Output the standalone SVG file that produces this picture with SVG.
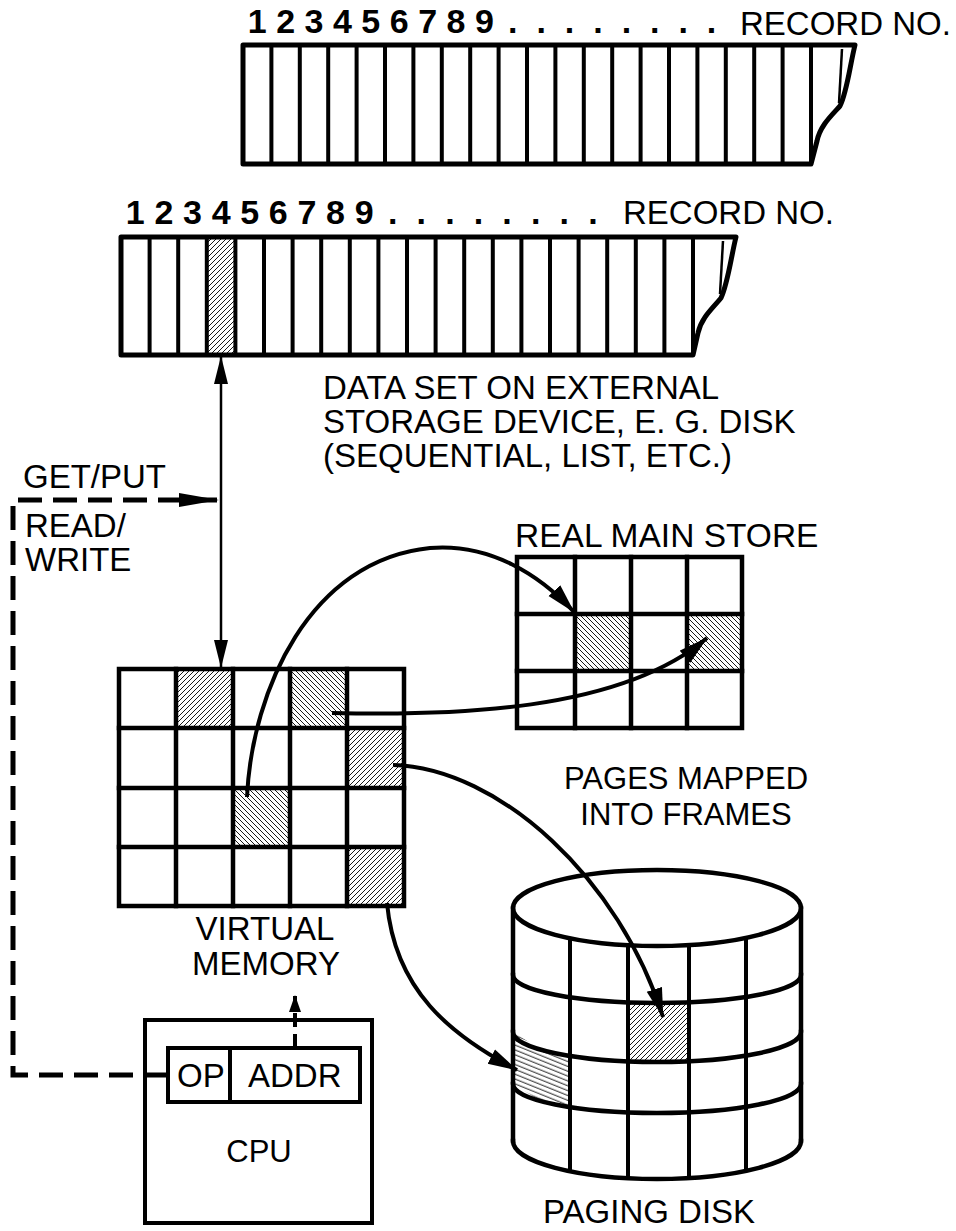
<svg xmlns="http://www.w3.org/2000/svg" width="956" height="1231" viewBox="0 0 956 1231">
<style>
text{font-family:"Liberation Sans",Arial,Helvetica,sans-serif;font-size:33px;fill:#000}
.num{font-weight:bold;font-size:34px}
.ol{fill:none;stroke:#000;stroke-width:5;stroke-linejoin:round}
.dv{fill:none;stroke:#000;stroke-width:4}
.gr{fill:none;stroke:#000;stroke-width:4.5;stroke-linecap:square}
.cv{fill:none;stroke:#000;stroke-width:4}
.ds{fill:none;stroke:#000;stroke-width:5;stroke-dasharray:24 11}
.th{fill:none;stroke:#000;stroke-width:2.5}
</style>
<defs>
<pattern id="hR" patternUnits="userSpaceOnUse" width="5" height="5"><path d="M-1,1 L1,-1 M0,5 L5,0 M4,6 L6,4" stroke="#000" stroke-width="0.9"/></pattern>
<pattern id="hL" patternUnits="userSpaceOnUse" width="5" height="5"><path d="M-1,4 L1,6 M0,0 L5,5 M4,-1 L6,1" stroke="#000" stroke-width="0.9"/></pattern>
<pattern id="hS" patternUnits="userSpaceOnUse" width="6" height="4.5" patternTransform="rotate(22)"><path d="M-1,2 H7" stroke="#000" stroke-width="0.9"/></pattern>
<marker id="ah" markerUnits="userSpaceOnUse" viewBox="0 0 30 18" markerWidth="30" markerHeight="18" refX="29" refY="9" orient="auto"><path d="M0,1 L30,9 L0,17 z" fill="#000"/></marker>
<marker id="ahThin" markerUnits="userSpaceOnUse" viewBox="0 0 28 14" markerWidth="28" markerHeight="14" refX="27" refY="7" orient="auto-start-reverse"><path d="M0,0 L28,7 L0,14 z" fill="#000"/></marker>
<marker id="ahLong" markerUnits="userSpaceOnUse" viewBox="0 0 40 14" markerWidth="40" markerHeight="14" refX="39" refY="7" orient="auto"><path d="M0,0 L40,7 L0,14 z" fill="#000"/></marker>
<marker id="ahSmall" markerUnits="userSpaceOnUse" viewBox="0 0 17 12" markerWidth="17" markerHeight="12" refX="16" refY="6" orient="auto"><path d="M0,0 L17,6 L0,12 z" fill="#000"/></marker>
</defs>

<g id="strip-top">
<text class="num" text-anchor="middle" x="257.2 285.6 314 342.4 370.8 399.2 427.6 456 484.4 512.8 541.2 569.6 598 626.4 654.8 683.2 711.6" y="33">123456789........</text>
<text x="740" y="35">RECORD NO.</text>
<path class="dv" d="M271.4,45V164M299.8,45V164M328.2,45V164M356.6,45V164M385,45V164M413.4,45V164M441.8,45V164M470.2,45V164M498.6,45V164M527,45V164M555.4,45V164M583.8,45V164M612.2,45V164M640.6,45V164M669,45V164M697.4,45V164M725.8,45V164M754.2,45V164M782.6,45V164M811,45V164"/>
<path class="ol" d="M243,45 H855 C850,65 847,92 840,106 C831,116 820,126 817,141 L811,164 H243 Z"/>
<path class="th" d="M842,49 L839,103"/>
</g>

<g id="strip-dataset">
<text class="num" text-anchor="middle" x="135.3 163.9 192.5 221.1 249.7 278.3 306.9 335.5 364.1 392.7 421.3 449.9 478.5 507.1 535.7 564.3 592.9" y="224">123456789........</text>
<text x="623" y="224">RECORD NO.</text>
<rect x="206.8" y="237" width="28.6" height="118" fill="url(#hR)"/>
<path class="dv" d="M149.6,237V355M178.2,237V355M206.8,237V355M235.4,237V355M264,237V355M292.6,237V355M321.2,237V355M349.8,237V355M378.4,237V355M407,237V355M435.6,237V355M464.2,237V355M492.8,237V355M521.4,237V355M550,237V355M578.6,237V355M607.2,237V355M635.8,237V355M664.4,237V355M693,237V355"/>
<path class="ol" d="M121,237 H736 C731,257 728,283 721,298 C713,308 701,318 698,333 L693,355 H121 Z"/>
<path class="th" d="M723,241 L720,294"/>
<text x="323" y="399">DATA SET ON EXTERNAL</text>
<text x="323" y="433">STORAGE DEVICE, E. G. DISK</text>
<text x="323" y="467">(SEQUENTIAL, LIST, ETC.)</text>
</g>

<g id="virtual-memory">
<rect x="176" y="669" width="57" height="59" fill="url(#hR)"/>
<rect x="290" y="669" width="57" height="59" fill="url(#hL)"/>
<rect x="347" y="728" width="57" height="60" fill="url(#hR)"/>
<rect x="233" y="788" width="57" height="59" fill="url(#hL)"/>
<rect x="347" y="847" width="57" height="59" fill="url(#hR)"/>
<path class="gr" d="M176,669V906M233,669V906M290,669V906M347,669V906M119,728H404M119,788H404M119,847H404"/>
<rect class="gr" x="119" y="669" width="285" height="237"/>
<text x="265" y="940" text-anchor="middle">VIRTUAL</text>
<text x="266" y="975" text-anchor="middle">MEMORY</text>
</g>

<g id="real-main-store">
<text x="515" y="547" style="font-size:33.5px">REAL MAIN STORE</text>
<rect x="575" y="614" width="56" height="57" fill="url(#hL)"/>
<rect x="687" y="614" width="55" height="57" fill="url(#hL)"/>
<path class="gr" d="M575,557V728M631,557V728M687,557V728M517,614H742M517,671H742"/>
<rect class="gr" x="517" y="557" width="225" height="171"/>
</g>

<g id="pages-label">
<text x="686" y="789" text-anchor="middle" style="font-size:31px">PAGES MAPPED</text>
<text x="686" y="825" text-anchor="middle" style="font-size:31px">INTO FRAMES</text>
</g>

<g id="paging-disk">
<path d="M628,1002.4 L657,1003 L689,1002.3 L689,1061.3 L657,1062 L628,1061.4 Z" fill="url(#hR)"/>
<path d="M513,1032 L541,1049.8 L570,1055.9 L570,1107.1 L541,1101.2 L513,1084 Z" fill="url(#hS)"/>
<ellipse class="gr" cx="657" cy="908" rx="144" ry="38"/>
<path class="gr" d="M513,908 V1141 M801,908 V1141"/>
<path class="gr" d="M513,975 A144,28 0 0 0 801,975 M513,1032 A144,30 0 0 0 801,1032 M513,1084 A144,29 0 0 0 801,1084 M513,1141 A144,38 0 0 0 801,1141"/>
<path class="dv" d="M570,938.3 V1171.3 M628,945.2 V1178.2 M689,945.1 V1178.1 M746,937.9 V1170.9"/>
<text x="543" y="1223">PAGING DISK</text>
</g>

<g id="cpu">
<rect x="145" y="1020" width="227" height="203" fill="none" stroke="#000" stroke-width="4"/>
<rect x="168" y="1048" width="192" height="54" fill="none" stroke="#000" stroke-width="4"/>
<path d="M230,1048 V1102" stroke="#000" stroke-width="4"/>
<text x="177" y="1087">OP</text>
<text x="248" y="1087">ADDR</text>
<text x="259" y="1162" text-anchor="middle" style="font-size:31px">CPU</text>
</g>

<g id="connectors">
<path class="th" d="M221,357 V667" marker-start="url(#ahThin)" marker-end="url(#ahThin)"/>
<path class="ds" d="M168,1075 H13 V500 H218" marker-end="url(#ahLong)"/>
<text x="23" y="488">GET/PUT</text>
<text x="25" y="537">READ/</text>
<text x="25" y="571">WRITE</text>
<path d="M295,1048 V996" fill="none" stroke="#000" stroke-width="4" stroke-dasharray="14 7" marker-end="url(#ahSmall)"/>
<path class="cv" d="M247,797 C252,690 310,560 430,548 C490,543 540,575 574,612" marker-end="url(#ah)"/>
<path class="cv" d="M332,713 C450,716 620,712 707,638" marker-end="url(#ah)"/>
<path class="cv" d="M393,765 C500,768 620,880 663,1017" marker-end="url(#ah)"/>
<path class="cv" d="M387,903 C395,990 450,1035 517,1070" marker-end="url(#ah)"/>
</g>
</svg>
